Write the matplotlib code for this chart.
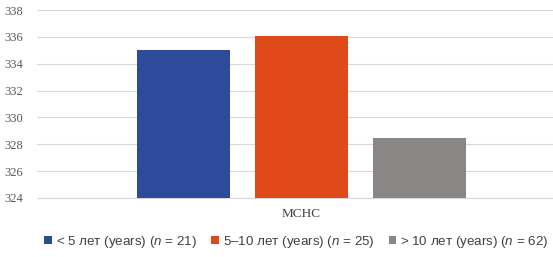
import matplotlib.pyplot as plt

plt.rcParams["mathtext.fontset"] = "custom"
plt.rcParams["mathtext.rm"] = "Liberation Sans"
plt.rcParams["mathtext.it"] = "Liberation Sans:italic"

category = "MCHC"
groups = ["< 5 лет (years) ($n$ = 21)", "5–10 лет (years) ($n$ = 25)", "> 10 лет (years) ($n$ = 62)"]
values = [335.0, 336.1, 328.5]
colors = ["#2E4A9A", "#E04A1A", "#8A8686"]
yticks = [324, 326, 328, 330, 332, 334, 336, 338]

fig = plt.figure(figsize=(5.53, 2.57), dpi=100)
ax = fig.add_axes([37 / 553, 59 / 257, 1 - 37 / 553, (257 - 10 - 59) / 257])

positions = [-1, 0, 1]
for pos, val, col, lab in zip(positions, values, colors, groups):
    ax.bar(pos, val - 324, bottom=324, width=0.79, color=col, label=lab, zorder=3)

ax.set_ylim(324, 338)
ax.set_xlim(-2.24, 2.13)
ax.set_yticks(yticks)
ax.set_yticklabels([str(t) for t in yticks], family="Liberation Serif", fontsize=9, color="#595959")
ax.set_xticks([0])
ax.set_xticklabels([category], family="Liberation Serif", fontsize=9.5, color="#404040")
ax.tick_params(axis="both", length=0)
ax.tick_params(axis="x", pad=7)
ax.tick_params(axis="y", pad=10)
ax.grid(axis="y", color="#D9D9D9", linewidth=0.8, zorder=0)
for side in ["top", "right", "left"]:
    ax.spines[side].set_visible(False)
ax.spines["bottom"].set_color("#D9D9D9")
ax.spines["bottom"].set_linewidth(0.8)

fig.legend(loc="center", bbox_to_anchor=(0.536, 0.058), ncol=3, frameon=False,
           prop={"family": "Liberation Sans", "size": 9.6}, handlelength=0.55, handleheight=0.55,
           handletextpad=0.3, columnspacing=1.1, labelcolor="#404040")

fig.savefig("out.png", dpi=100)
